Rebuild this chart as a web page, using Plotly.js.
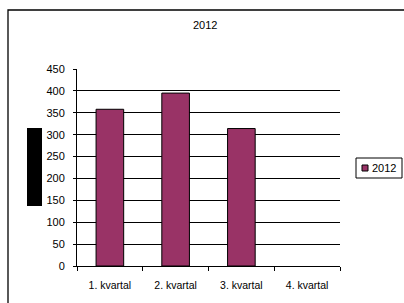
<!DOCTYPE html>
<html>
<head>
<meta charset="utf-8">
<script src="https://cdn.plot.ly/plotly-3.0.1.min.js"></script>
<style>html,body{margin:0;padding:0;background:#fff;}#chart{width:404px;height:303px;}</style>
</head>
<body>
<div id="chart"></div>
<script>
const categories = ["1. kvartal", "2. kvartal", "3. kvartal", "4. kvartal"];
const seriesName = "2012";
const values2012 = [358, 395, 314, null];
const yTickVals = [0, 50, 100, 150, 200, 250, 300, 350, 400, 450];

const barColor = "#993366";
const fontFamily = "'Liberation Sans', Arial, sans-serif";

const trace = {
  type: "bar",
  x: categories,
  y: values2012,
  name: seriesName,
  marker: { color: barColor, line: { color: "#000", width: 1 } },
  width: 0.42,
  showlegend: false,
  hoverinfo: "x+y"
};

const L = 77, R = 64, T = 69, B = 37;
const PW = 404 - L - R, PH = 303 - T - B;
const px = v => (v - L) / PW;
const py = v => (303 - B - v) / PH;

const layout = {
  width: 404, height: 303,
  margin: { l: L, r: R, t: T, b: B, pad: 0 },
  paper_bgcolor: "#fff", plot_bgcolor: "#fff",
  font: { family: fontFamily, size: 11, color: "#000" },
  title: { text: "2012", x: 0.508, xanchor: "center", y: 1 - 25.6 / 303, yanchor: "middle", font: { size: 11, family: fontFamily, color: "#000" } },
  bargap: 0.58,
  xaxis: {
    type: "category",
    showline: true, linecolor: "#000", linewidth: 1,
    ticks: "outside", ticklen: 4, tickcolor: "#000", tickson: "boundaries",
    showgrid: false, zeroline: false,
    tickfont: { size: 10.5, family: fontFamily },
    ticklabelstandoff: 9,
    fixedrange: true
  },
  yaxis: {
    range: [0, 450], tickvals: yTickVals, ticktext: yTickVals.map(String),
    showline: true, linecolor: "#000", linewidth: 1,
    ticks: "outside", ticklen: 3, tickcolor: "#000",
    showgrid: true, gridcolor: "#000", gridwidth: 1, zeroline: false,
    tickfont: { size: 11, family: fontFamily },
    ticklabelstandoff: 6,
    fixedrange: true
  },
  showlegend: false,
  shapes: [
    { type: "rect", xref: "paper", yref: "paper", x0: px(8), x1: px(420), y0: py(320), y1: py(10), line: { color: "#000", width: 1.3 }, fillcolor: "rgba(0,0,0,0)", layer: "below" },
    { type: "rect", xref: "paper", yref: "paper", x0: px(27), x1: px(42), y0: py(206), y1: py(128), line: { width: 0 }, fillcolor: "#000" },
    { type: "rect", xref: "paper", yref: "paper", x0: px(356), x1: px(402), y0: py(178), y1: py(158), line: { color: "#000", width: 1 }, fillcolor: "#fff" },
    { type: "rect", xref: "paper", yref: "paper", x0: px(362), x1: px(368), y0: py(171), y1: py(165), line: { color: "#000", width: 1 }, fillcolor: barColor }
  ],
  annotations: [
    { xref: "paper", yref: "paper", x: px(370), y: py(168), xanchor: "left", yanchor: "middle", text: seriesName, showarrow: false, font: { size: 11, family: fontFamily, color: "#000" } }
  ]
};

Plotly.newPlot("chart", [trace], layout, { displayModeBar: false, staticPlot: true });
</script>
</body>
</html>
